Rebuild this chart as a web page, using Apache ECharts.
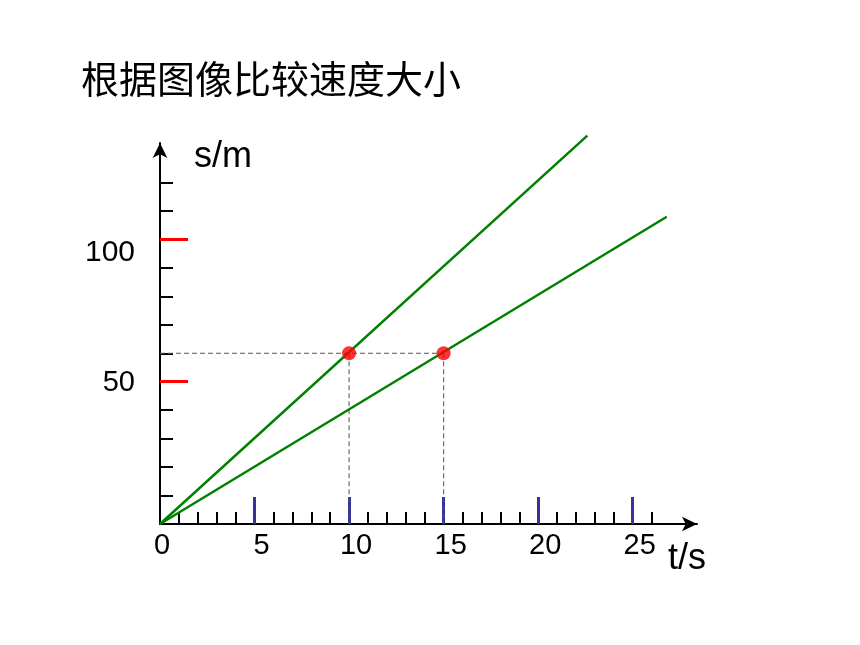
<!DOCTYPE html>
<html>
<head>
<meta charset="utf-8">
<script src="https://cdn.jsdelivr.net/npm/echarts@6/dist/echarts.min.js"></script>
<style>html,body{margin:0;padding:0;background:#fff;}#c{width:860px;height:645px;}</style>
</head>
<body>
<div id="c"></div>
<script>
// ---- data ----
const titleText = '根据图像比较速度大小';
const xName = 't/s';
const yName = 's/m';
const tMajor = [5, 10, 15, 20, 25];
const tMinor = [1, 2, 3, 4, 6, 7, 8, 9, 11, 12, 13, 14, 16, 17, 18, 19, 21, 22, 23, 24, 26];
const tLabels = [0, 5, 10, 15, 20, 25];
const sMajor = [50, 100];
const sMinor = [10, 20, 30, 40, 60, 70, 80, 90, 110, 120];
const lineFast = [[0, 0], [22.6, 136.5]];
const lineSlow = [[0, 0], [26.8, 108]];
const points = [[10, 60], [15, 60]];

const X_MAX = 28.4, Y_MAX = 133.9;

const chart = echarts.init(document.getElementById('c'), null, {renderer: 'canvas'});

const guideH = [[0, points[0][1]], [points[1][0], points[1][1]]];
const guideV1 = [[points[0][0], points[0][1]], [points[0][0], 0]];
const guideV2 = [[points[1][0], points[1][1]], [points[1][0], 0]];

const dashStyle = {color: '#555', width: 1, type: [5, 3]};

function dashSeries(d) {
  return {type: 'line', data: d, symbol: 'none', silent: true, lineStyle: dashStyle, z: 1, clip: false, animation: false};
}

chart.setOption({
  animation: false,
  title: {
    text: titleText, left: 76, top: 55,
    textStyle: {fontFamily: 'Noto Sans CJK SC', fontSize: 38, fontWeight: 'normal', color: '#000'}
  },
  grid: {left: 160, top: 143, width: 537, height: 381, containLabel: false},
  xAxis: [
    {
      type: 'value', min: 0, max: X_MAX, position: 'bottom',
      axisLine: {show: true, onZero: false, lineStyle: {color: '#000', width: 2}, symbol: ['none', 'arrow'], symbolSize: [11, 15]},
      axisTick: {show: true, inside: true, length: 12, lineStyle: {color: '#000', width: 2}, customValues: tMinor},
      axisLabel: {show: true, customValues: tLabels, margin: 7, padding: [0, 0, 0, 14], color: '#000',
        fontFamily: 'Liberation Sans', fontSize: 29, showMinLabel: true, showMaxLabel: true,
        formatter: function (v) { return v === 0 ? '{z|0}' : String(v); },
        rich: {z: {fontFamily: 'Liberation Sans', fontSize: 29, color: '#000', padding: [0, 10, 0, 0]}}},
      splitLine: {show: false}
    },
    {
      type: 'value', min: 0, max: X_MAX, position: 'bottom',
      axisLine: {show: false, onZero: false},
      axisTick: {show: true, inside: true, length: 27, lineStyle: {color: '#333399', width: 3}, customValues: tMajor},
      axisLabel: {show: false},
      splitLine: {show: false}
    }
  ],
  yAxis: [
    {
      type: 'value', min: 0, max: Y_MAX, position: 'left',
      axisLine: {show: true, onZero: false, lineStyle: {color: '#000', width: 2}, symbol: ['none', 'arrow'], symbolSize: [11, 15]},
      axisTick: {show: true, inside: true, length: 13, lineStyle: {color: '#000', width: 2}, customValues: sMinor},
      axisLabel: {show: true, customValues: sMajor, margin: 25, color: '#000',
        fontFamily: 'Liberation Sans', fontSize: 29,
        formatter: function (v) { return v === 100 ? '{d|' + v + '}' : '{n|' + v + '}'; },
        rich: {d: {fontFamily: 'Liberation Sans', fontSize: 30, color: '#000', padding: [26, 0, 0, 0]},
               n: {fontFamily: 'Liberation Sans', fontSize: 29, color: '#000', padding: [2, 0, 0, 0]}}},
      splitLine: {show: false}
    },
    {
      type: 'value', min: 0, max: Y_MAX, position: 'left',
      axisLine: {show: false, onZero: false},
      axisTick: {show: true, inside: true, length: 28, lineStyle: {color: '#ff0000', width: 3}, customValues: sMajor},
      axisLabel: {show: false},
      splitLine: {show: false}
    }
  ],
  graphic: [
    {type: 'text', left: 194, top: 139, style: {text: yName, fontFamily: 'Liberation Sans', fontSize: 36, fill: '#000'}},
    {type: 'text', left: 668, top: 541, style: {text: xName, fontFamily: 'Liberation Sans', fontSize: 36, fill: '#000'}}
  ],
  series: [
    dashSeries(guideH), dashSeries(guideV1), dashSeries(guideV2),
    {type: 'line', data: lineFast, symbol: 'none', clip: false, z: 2, lineStyle: {color: '#008000', width: 2.5}},
    {type: 'line', data: lineSlow, symbol: 'none', clip: false, z: 2, lineStyle: {color: '#008000', width: 2.5}},
    {type: 'scatter', data: points, symbol: 'circle', symbolSize: 14, z: 3, clip: false, itemStyle: {color: '#ff0000'}}
  ]
});
</script>
</body>
</html>
